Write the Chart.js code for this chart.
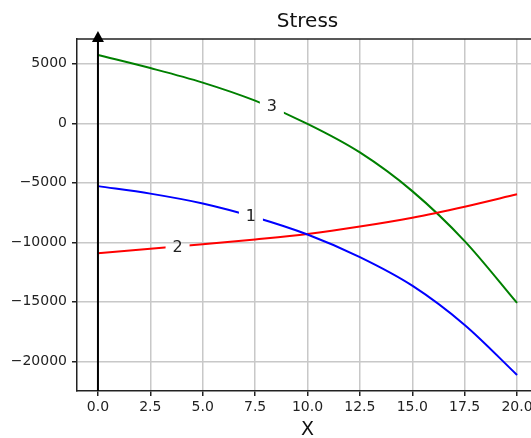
<!DOCTYPE html>
<html>
<head>
<meta charset="utf-8">
<script src="https://cdn.jsdelivr.net/npm/chart.js@4"></script>
<style>
  html, body { margin: 0; padding: 0; background: #fff; overflow: hidden; }
  #wrap { width: 545px; height: 438px; position: relative; }
</style>
</head>
<body>
<div id="wrap"><canvas id="c"></canvas></div>
<script>
// ---- data ----
const xValues = [0, 2.5, 5, 7.5, 10, 12.5, 15, 17.5, 20];
const series1 = [-5280, -5910, -6740, -7900, -9350, -11250, -13650, -16950, -21150]; // blue "1"
const series2 = [-10930, -10550, -10170, -9760, -9300, -8680, -7940, -7010, -5970];  // red "2"
const series3 = [5740, 4640, 3420, 1900, -50, -2450, -5700, -9900, -15100];          // green "3"
const seriesNames = ['1', '2', '3'];
const labelX = [7.3, 3.8, 8.3];
const labelY = [-7750, -10400, 1500];
const xTicks = [0, 2.5, 5, 7.5, 10, 12.5, 15, 17.5, 20];
const yTicks = [5000, 0, -5000, -10000, -15000, -20000];
const titleText = 'Stress';
const xTitle = 'X';

const FONT = '"DejaVu Sans", sans-serif';
const colors = ['#0000ff', '#ff0000', '#008000'];
const allSeries = [series1, series2, series3];

function toXY(arr) { return xValues.map((x, i) => ({x: x, y: arr[i]})); }
function fmtY(v) { return v < 0 ? '\u2212' + Math.abs(v) : String(v); }

const BOX_W = 24, BOX_H = 22;

const decor = {
  id: 'decor',
  beforeDatasetsDraw(chart) {
    const ctx = chart.ctx;
    const xs = chart.scales.x, ys = chart.scales.y;
    ctx.save();
    ctx.beginPath();
    ctx.rect(0, 0, chart.width, chart.height);
    for (let i = 0; i < seriesNames.length; i++) {
      const px = xs.getPixelForValue(labelX[i]);
      const py = ys.getPixelForValue(labelY[i]);
      ctx.rect(px - BOX_W / 2, py - BOX_H / 2, BOX_W, BOX_H);
    }
    ctx.clip('evenodd');
  },
  afterDatasetsDraw(chart) {
    const ctx = chart.ctx, a = chart.chartArea;
    const xs = chart.scales.x, ys = chart.scales.y;
    ctx.restore();
    // line labels
    ctx.save();
    ctx.fillStyle = '#222';
    ctx.font = '16px ' + FONT;
    ctx.textAlign = 'center';
    ctx.textBaseline = 'middle';
    for (let i = 0; i < seriesNames.length; i++) {
      ctx.fillText(seriesNames[i], xs.getPixelForValue(labelX[i]), ys.getPixelForValue(labelY[i]) + 1);
    }
    // top / right spine
    ctx.strokeStyle = '#222';
    ctx.lineWidth = 1.5;
    ctx.beginPath();
    ctx.moveTo(a.left, a.top);
    ctx.lineTo(a.right, a.top);
    ctx.lineTo(a.right, a.bottom);
    ctx.stroke();
    // arrow at x = 0
    const x0 = xs.getPixelForValue(0);
    ctx.strokeStyle = '#000';
    ctx.lineWidth = 2;
    ctx.beginPath();
    ctx.moveTo(x0, a.bottom);
    ctx.lineTo(x0, a.top - 2);
    ctx.stroke();
    ctx.fillStyle = '#000';
    ctx.beginPath();
    ctx.moveTo(x0, a.top - 8);
    ctx.lineTo(x0 - 6, a.top + 3);
    ctx.lineTo(x0 + 6, a.top + 3);
    ctx.closePath();
    ctx.fill();
    // title and x label
    const cx = (a.left + a.right) / 2;
    ctx.fillStyle = '#111';
    ctx.font = '20px ' + FONT;
    ctx.textAlign = 'center';
    ctx.textBaseline = 'middle';
    ctx.fillText(titleText, cx, 22);
    ctx.font = '19px ' + FONT;
    ctx.fillText(xTitle, cx, 430);
    ctx.restore();
  }
};

new Chart(document.getElementById('c'), {
  type: 'line',
  data: {
    datasets: allSeries.map((s, i) => ({
      label: seriesNames[i],
      data: toXY(s),
      borderColor: colors[i],
      borderWidth: 2,
      pointRadius: 0,
      fill: false,
      cubicInterpolationMode: 'monotone'
    }))
  },
  options: {
    responsive: true,
    maintainAspectRatio: false,
    animation: false,
    events: [],
    layout: { padding: { top: 39, right: 7, left: 0, bottom: 0 } },
    plugins: { legend: { display: false }, tooltip: { enabled: false }, title: { display: false } },
    scales: {
      x: {
        type: 'linear',
        min: -1, max: 21,
        afterFit(scale) { scale.height = 47; },
        afterBuildTicks(scale) { scale.ticks = xTicks.map(v => ({value: v})); },
        grid: { color: '#c8c8c8', lineWidth: 1.5, tickColor: '#222', tickLength: 5, tickWidth: 1.5 },
        border: { color: '#222', width: 1.5 },
        ticks: {
          color: '#222', font: { family: FONT, size: 14 }, padding: 3, maxRotation: 0,
          autoSkip: false,
          callback: (v) => Number(v).toFixed(1)
        }
      },
      y: {
        type: 'linear',
        min: -22500, max: 7085,
        afterFit(scale) { scale.width = 77; },
        afterBuildTicks(scale) { scale.ticks = yTicks.map(v => ({value: v})); },
        grid: { color: '#c8c8c8', lineWidth: 1.5, tickColor: '#222', tickLength: 5, tickWidth: 1.5 },
        border: { color: '#222', width: 1.5 },
        ticks: {
          color: '#222', font: { family: FONT, size: 14 }, padding: 5,
          autoSkip: false,
          callback: (v) => fmtY(v)
        }
      }
    }
  },
  plugins: [decor]
});
</script>
</body>
</html>
